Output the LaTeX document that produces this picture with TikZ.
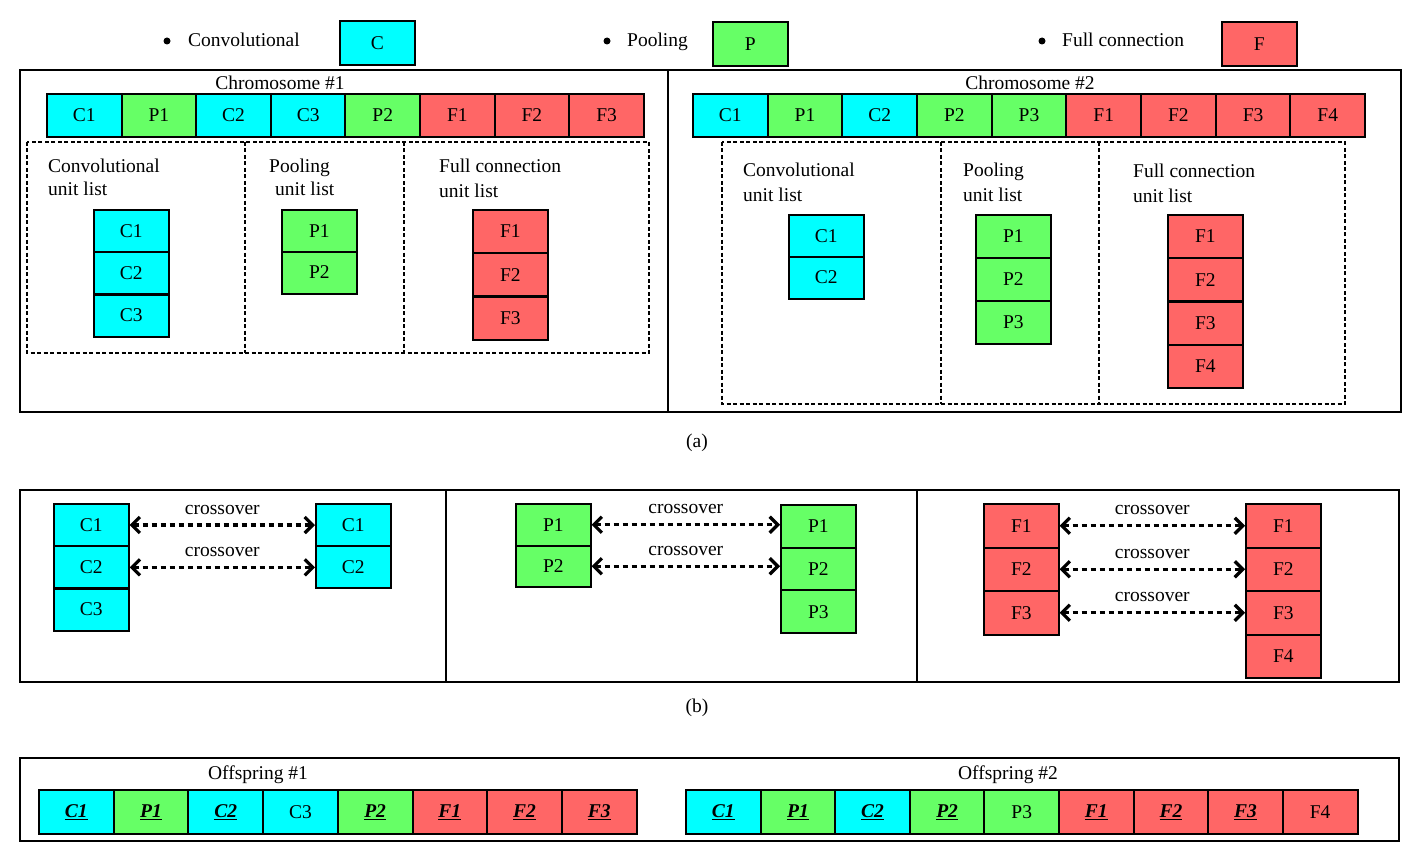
\documentclass[tikz,border=0pt]{standalone}
\usepackage{fontspec}
\setmainfont{Liberation Serif}
\usetikzlibrary{arrows.meta}
\definecolor{convc}{HTML}{00FFFF}
\definecolor{poolc}{HTML}{66FF66}
\definecolor{fullc}{HTML}{FF6666}
% genes inherited by crossover
\newcommand\inh[1]{\underline{\textbf{\textit{#1}}}}
\begin{document}
\begin{tikzpicture}[x=1pt,y=-1pt,
  font=\fontsize{19.5}{24}\selectfont,
  cell/.style={draw=black, line width=2pt, minimum width=74.7pt, minimum height=43pt,
    inner sep=0pt, anchor=north west},
  frame/.style={draw=black, line width=2pt},
  dbox/.style={draw=black, line width=1.6pt, dash pattern=on 4pt off 2.5pt},
  bullet/.style={circle, fill=black, inner sep=0pt, minimum size=7pt},
  lbl/.style={anchor=base west, inner sep=0pt},
  ttl/.style={anchor=base, inner sep=0pt},
  xarrow/.style={line width=3.2pt, dash pattern=on 5.5pt off 3.5pt,
    {Straight Barb[length=8pt,width=16pt]}-{Straight Barb[length=8pt,width=16pt]}},
  xlabel/.style={midway, anchor=base, inner sep=0pt, yshift=11pt}]
\useasboundingbox (0,0) rectangle (1414,856);

% ---------- legend ----------
\node[bullet] (lg-cb) at (167,41) {};
\node[lbl] (lg-ct) at (188,47) {Convolutional};
\node[cell, fill=convc, minimum height=44pt] (lg-c) at (339,20) {C};
\node[bullet] (lg-pb) at (607,41) {};
\node[lbl] (lg-pt) at (627,47) {Pooling};
\node[cell, fill=poolc, minimum height=44pt] (lg-p) at (712,21) {P};
\node[bullet] (lg-fb) at (1042,41) {};
\node[lbl] (lg-ft) at (1062,47) {Full connection};
\node[cell, fill=fullc, minimum height=44pt] (lg-f) at (1221,21) {F};

% ---------- (a) chromosomes ----------
\draw[frame] (20,70) rectangle (1401,412);
\draw[frame] (668,70) -- (668,412);

\node[ttl] (t1) at (280,90) {Chromosome \#1};
\foreach \t/\c [count=\i] in {C1/convc,P1/poolc,C2/convc,C3/convc,P2/poolc,F1/fullc,F2/fullc,F3/fullc}
  \node[cell, fill=\c] (ca\i) at ({46+(\i-1)*74.6},93) {\t};

\draw[dbox] (27,142) rectangle (649,353);
\draw[dbox] (245,142) -- (245,353);
\draw[dbox] (404,142) -- (404,353);
\node[lbl] (ua1) at (48,172) {Convolutional};
\node[lbl] (ua2) at (48,196) {unit list};
\node[lbl] (ua3) at (269,172) {Pooling};
\node[lbl] (ua4) at (275,196) {unit list};
\node[lbl] (ua5) at (439,173) {Full connection};
\node[lbl] (ua6) at (439,197) {unit list};
\foreach \t [count=\i] in {C1,C2,C3}
  \node[cell, fill=convc, minimum height=42pt] (lac\i) at (93,{209+(\i-1)*42.3}) {\t};
\foreach \t [count=\i] in {P1,P2}
  \node[cell, fill=poolc, minimum height=42pt] (lap\i) at (281,{209+(\i-1)*41.5}) {\t};
\foreach \t [count=\i] in {F1,F2,F3}
  \node[cell, fill=fullc, minimum height=43pt] (laf\i) at (472,{209+(\i-1)*43.3}) {\t};

\node[ttl] (t2) at (1030,90) {Chromosome \#2};
\foreach \t/\c [count=\i] in {C1/convc,P1/poolc,C2/convc,P2/poolc,P3/poolc,F1/fullc,F2/fullc,F3/fullc,F4/fullc}
  \node[cell, fill=\c] (cb\i) at ({692+(\i-1)*74.67},93) {\t};

\draw[dbox] (722,142) rectangle (1345,404);
\draw[dbox] (941,142) -- (941,404);
\draw[dbox] (1099,142) -- (1099,404);
\node[lbl] (ub1) at (743,177) {Convolutional};
\node[lbl] (ub2) at (743,201) {unit list};
\node[lbl] (ub3) at (963,177) {Pooling};
\node[lbl] (ub4) at (963,201) {unit list};
\node[lbl] (ub5) at (1133,178) {Full connection};
\node[lbl] (ub6) at (1133,202) {unit list};
\foreach \t [count=\i] in {C1,C2}
  \node[cell, fill=convc, minimum height=42pt] (lbc\i) at (788,{214+(\i-1)*41.5}) {\t};
\foreach \t [count=\i] in {P1,P2,P3}
  \node[cell, fill=poolc, minimum height=43pt] (lbp\i) at (975,{214+(\i-1)*43}) {\t};
\foreach \t [count=\i] in {F1,F2,F3,F4}
  \node[cell, fill=fullc, minimum height=43pt] (lbf\i) at (1167,{214+(\i-1)*43.3}) {\t};

\node[ttl] (capa) at (697,447) {(a)};

% ---------- (b) crossover ----------
\draw[frame] (20,490) rectangle (1399,682);
\draw[frame] (446,490) -- (446,682);
\draw[frame] (917,490) -- (917,682);

\foreach \t [count=\i] in {C1,C2,C3}
  \node[cell, fill=convc, minimum height=42pt] (xc\i) at (53,{503+(\i-1)*42.3}) {\t};
\foreach \t [count=\i] in {C1,C2}
  \node[cell, fill=convc, minimum height=42pt] (yc\i) at (315,{503+(\i-1)*42}) {\t};
\foreach \i in {1,2}
  \draw[xarrow] (xc\i.east) -- (xc\i.east -| yc\i.west) node[xlabel] (lc\i) {crossover};

\foreach \t [count=\i] in {P1,P2}
  \node[cell, fill=poolc, minimum height=41.5pt] (xp\i) at (515,{503+(\i-1)*41.5}) {\t};
\foreach \t [count=\i] in {P1,P2,P3}
  \node[cell, fill=poolc, minimum height=42.7pt] (yp\i) at (780,{504+(\i-1)*42.7}) {\t};
\foreach \i in {1,2}
  \draw[xarrow] (xp\i.east) -- (xp\i.east -| yp\i.west) node[xlabel] (lp\i) {crossover};

\foreach \t [count=\i] in {F1,F2,F3}
  \node[cell, fill=fullc, minimum height=43.5pt] (xf\i) at (983,{503+(\i-1)*43.5}) {\t};
\foreach \t [count=\i] in {F1,F2,F3,F4}
  \node[cell, fill=fullc, minimum height=43.5pt] (yf\i) at (1245,{503+(\i-1)*43.5}) {\t};
\foreach \i in {1,2,3}
  \draw[xarrow] (xf\i.east) -- (yf\i.west) node[xlabel] (lf\i) {crossover};

\node[ttl] (capb) at (697,712) {(b)};

% ---------- offspring ----------
\draw[frame] (20,758) rectangle (1399,841);
\node[ttl] (o1) at (258,779) {Offspring \#1};
\foreach \t/\c [count=\i] in {\inh{C1}/convc,\inh{P1}/poolc,\inh{C2}/convc,C3/convc,\inh{P2}/poolc,\inh{F1}/fullc,\inh{F2}/fullc,\inh{F3}/fullc}
  \node[cell, fill=\c, minimum height=44pt] (oa\i) at ({38+(\i-1)*74.7},789) {\t};
\node[ttl] (o2) at (1008,779) {Offspring \#2};
\foreach \t/\c [count=\i] in {\inh{C1}/convc,\inh{P1}/poolc,\inh{C2}/convc,\inh{P2}/poolc,P3/poolc,\inh{F1}/fullc,\inh{F2}/fullc,\inh{F3}/fullc,F4/fullc}
  \node[cell, fill=\c, minimum height=44pt] (ob\i) at ({685+(\i-1)*74.6},789) {\t};
\end{tikzpicture}
\end{document}
